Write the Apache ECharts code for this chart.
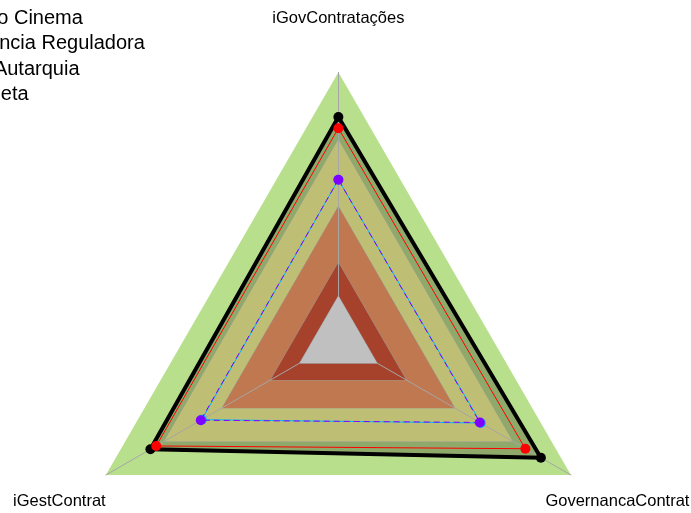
<!DOCTYPE html>
<html>
<head>
<meta charset="utf-8">
<script src="https://cdn.jsdelivr.net/npm/echarts@6/dist/echarts.min.js"></script>
<style>
  html, body { margin: 0; padding: 0; background: #fff; }
  #chart { width: 691px; height: 513px; }
</style>
</head>
<body>
<div id="chart"></div>
<script>
var indicators = ['iGovContratações', 'iGestContrat', 'GovernancaContrat'];
var seriesNames = ['Agência Nacional do Cinema', 'Média Agência Reguladora', 'Média Autarquia', 'Meta'];

var cinema = [0.75, 0.74, 0.765];
var reguladora = [0.52, 0.505, 0.535];
var autarquia = [0.52, 0.51, 0.53];
var meta = [0.80, 0.77, 0.845];

// faixas de capacidade: aprimorado / intermediario / iniciando / inexpressivo
var bandLevels = [1, 0.7, 0.4, 0.15];
var bandColors = ['#b8e08c', '#bebe74', '#bf7850', '#a6412c'];
var centerLevel = 0;
var centerColor = '#c0c0c0';
var metaFill = '#8fa96a';

// a legenda sai cortada pela esquerda no original
var legendSuffix = ['o Cinema', 'ncia Reguladora', 'Autarquia', 'eta'];
var legendTextStart = [-2.7, -0.8, -6.1, 0.8];

var chart = echarts.init(document.getElementById('chart'));

var ctx = document.createElement('canvas').getContext('2d');
ctx.font = '20px "Liberation Sans"';
function prefixWidth(name, suffix) {
  return ctx.measureText(name.slice(0, name.length - suffix.length)).width;
}

var legends = seriesNames.map(function (name, i) {
  return {
    data: [name],
    padding: 0,
    left: legendTextStart[i] - prefixWidth(name, legendSuffix[i]) - 30,
    top: 8 + i * 25.6,
    itemWidth: 25,
    itemHeight: 14,
    selectedMode: false,
    textStyle: { fontSize: 20, fontFamily: 'Liberation Sans', color: '#000' }
  };
});

function flat(lv) {
  return indicators.map(function () { return lv; });
}

var bands = [];
bandLevels.forEach(function (lv, i) {
  bands.push({
    name: 'faixa' + i,
    value: flat(lv),
    areaStyle: { color: bandColors[i], opacity: 1 },
    lineStyle: i === 0 ? { width: 0, opacity: 0 } : { color: '#9a9a9a', width: 1, opacity: 1 }
  });
  if (i === 0) {
    bands.push({
      name: 'metaFill',
      value: meta,
      areaStyle: { color: metaFill, opacity: 1 },
      lineStyle: { width: 0, opacity: 0 }
    });
  }
});

function lineSeries(name, values, color, width, z, type) {
  return {
    type: 'radar',
    z: z,
    silent: true,
    symbol: 'circle',
    symbolSize: 10,
    data: [{
      name: name,
      value: values,
      lineStyle: { color: color, width: width, type: type || 'solid', opacity: 1 },
      itemStyle: { color: color }
    }]
  };
}

var option = {
  animation: false,
  legend: legends,
  radar: {
    center: ['48.97%', '66.43%'],
    radius: 268.5,
    startAngle: 90,
    z: 1,
    indicator: indicators.map(function (n) { return { name: n, min: -0.2, max: 1 }; }),
    splitNumber: 6,
    splitLine: { show: false },
    splitArea: { show: false },
    axisLine: { lineStyle: { color: '#a6a6a6', width: 1 } },
    nameGap: 53.7,
    axisName: {
      color: '#000',
      fontSize: 16.5,
      fontFamily: 'Liberation Sans',
      align: 'center',
      verticalAlign: 'middle'
    }
  },
  series: [
    { type: 'radar', z: 0, silent: true, symbol: 'none', data: bands },
    {
      type: 'radar', z: 2, silent: true, symbol: 'none',
      data: [{
        name: 'centro',
        value: flat(centerLevel),
        areaStyle: { color: centerColor, opacity: 1 },
        lineStyle: { color: '#9a9a9a', width: 1, opacity: 1 }
      }]
    },
    lineSeries(seriesNames[3], meta, '#000000', 4, 3),
    lineSeries(seriesNames[1], reguladora, '#00b8ff', 1, 4),
    lineSeries(seriesNames[2], autarquia, '#8000ff', 1, 5, [6, 4]),
    lineSeries(seriesNames[0], cinema, '#ff0000', 1, 6)
  ]
};

chart.setOption(option);
</script>
</body>
</html>
